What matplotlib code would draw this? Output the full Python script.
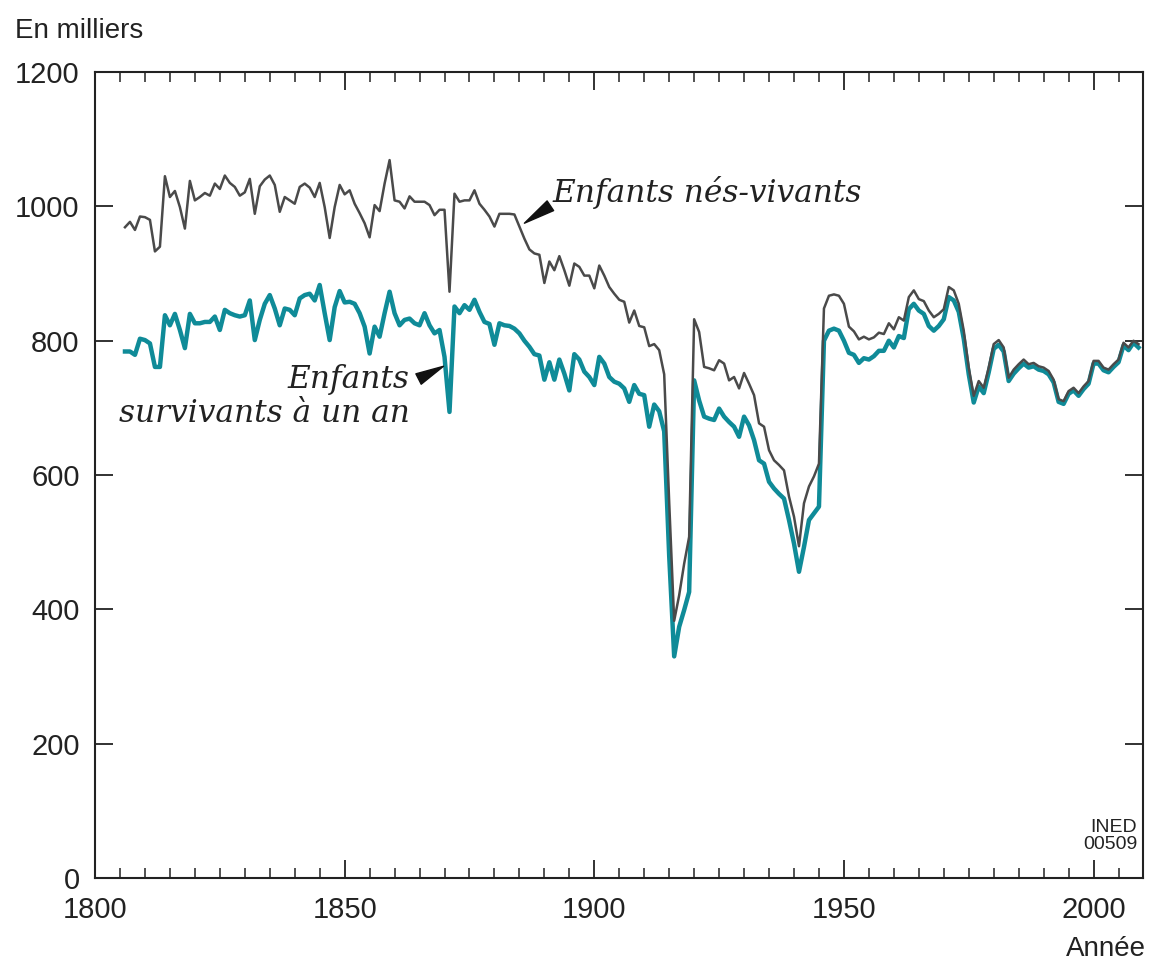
import matplotlib
matplotlib.use("Agg")
import matplotlib.pyplot as plt
from matplotlib.ticker import MultipleLocator

years = list(range(1806, 2010))

births = [
    969, 977, 965, 985, 984, 980, 933, 940, 1045, 1014,            # 1806-1815
    1023, 999, 967, 1038, 1009, 1014, 1020, 1016, 1034, 1026,       # 1816-1825
    1046, 1035, 1029, 1016, 1021, 1041, 989, 1030, 1040, 1046,      # 1826-1835
    1032, 992, 1014, 1009, 1004, 1029, 1034, 1028, 1014, 1035,      # 1836-1845
    999, 953, 999, 1032, 1018, 1024, 1004, 990, 975, 954,           # 1846-1855
    1002, 993, 1034, 1069, 1009, 1007, 997, 1015, 1007, 1007,       # 1856-1865
    1007, 1002, 987, 995, 995, 873, 1019, 1007, 1009, 1009,         # 1866-1875
    1024, 1004, 995, 985, 970, 989, 989, 989, 988, 970,             # 1876-1885
    952, 936, 930, 928, 886, 918, 905, 926, 905, 882,               # 1886-1895
    915, 910, 897, 897, 878, 912, 897, 880, 870, 861,               # 1896-1905
    858, 827, 845, 822, 820, 792, 795, 786, 750, 560,               # 1906-1915
    383, 421, 468, 508, 832, 813, 761, 759, 756, 771,               # 1916-1925
    766, 741, 746, 729, 752, 736, 719, 677, 672, 637,               # 1926-1935
    622, 615, 607, 568, 538, 494, 558, 583, 598, 617,               # 1936-1945
    848, 867, 869, 867, 855, 821, 814, 802, 806, 802,               # 1946-1955
    805, 812, 810, 826, 817, 835, 830, 865, 875, 862,               # 1956-1965
    859, 845, 835, 840, 847, 880, 875, 855, 815, 760,               # 1966-1975
    718, 740, 730, 760, 795, 801, 790, 745, 757, 765,               # 1976-1985
    772, 765, 767, 762, 760, 755, 742, 713, 710, 725,               # 1986-1995
    730, 722, 732, 740, 770, 770, 760, 757, 765, 772,               # 1996-2005
    797, 790, 800, 795,                                             # 2006-2009
]

survivors = [
    784, 784, 779, 803, 801, 796, 761, 761, 838, 823,               # 1806-1815
    840, 816, 789, 840, 826, 826, 828, 828, 836, 816,               # 1816-1825
    846, 841, 838, 836, 838, 860, 801, 831, 855, 868,               # 1826-1835
    848, 823, 848, 846, 838, 863, 868, 870, 860, 883,               # 1836-1845
    841, 801, 850, 874, 857, 858, 855, 841, 821, 781,               # 1846-1855
    821, 806, 841, 873, 841, 823, 831, 833, 826, 823,               # 1856-1865
    841, 823, 811, 816, 776, 694, 851, 841, 853, 846,               # 1866-1875
    861, 843, 828, 825, 794, 826, 823, 822, 818, 811,               # 1876-1885
    800, 791, 780, 778, 742, 768, 742, 772, 751, 726,               # 1886-1895
    780, 772, 754, 746, 734, 776, 766, 746, 739, 736,               # 1896-1905
    729, 709, 734, 721, 719, 672, 705, 695, 665, 480,               # 1906-1915
    330, 374, 399, 426, 741, 711, 687, 684, 682, 699,               # 1916-1925
    687, 679, 672, 657, 687, 674, 652, 622, 617, 590,               # 1926-1935
    580, 572, 565, 533, 498, 456, 493, 533, 543, 553,               # 1936-1945
    800, 815, 818, 815, 800, 782, 779, 767, 774, 772,               # 1946-1955
    777, 785, 785, 800, 790, 807, 804, 847, 855, 845,               # 1956-1965
    840, 822, 815, 822, 832, 865, 860, 843, 803, 750,               # 1966-1975
    708, 732, 722, 753, 788, 794, 784, 740, 751, 759,               # 1976-1985
    766, 760, 762, 757, 755, 750, 738, 709, 706, 721,               # 1986-1995
    726, 718, 728, 736, 766, 766, 756, 753, 761, 768,               # 1996-2005
    793, 786, 797, 790,                                             # 2006-2009
]

x_ticks = [1800, 1850, 1900, 1950, 2000]
y_ticks = [0, 200, 400, 600, 800, 1000, 1200]

label_births = "Enfants nés-vivants"
label_surv = "Enfants\nsurvivants à un an"

TEAL = "#0f8b98"
GREY = "#4a4a4a"
INK = "#222222"
SANS = ["Liberation Sans", "DejaVu Sans"]
SERIF = ["DejaVu Serif"]

fig = plt.figure(figsize=(11.49, 9.64), dpi=100)
ax = fig.add_axes([0.0827, 0.0892, 0.9125, 0.836])

ax.plot(years, survivors, color=TEAL, lw=3.2, zorder=3)
ax.plot(years, births, color=GREY, lw=1.8, zorder=4)

ax.set_xlim(1800, 2010)
ax.set_ylim(0, 1200)
ax.set_xticks(x_ticks)
ax.set_yticks(y_ticks)
ax.xaxis.set_minor_locator(MultipleLocator(5))

for s in ax.spines.values():
    s.set_linewidth(1.5)
    s.set_color(INK)

ax.tick_params(which="both", direction="in", top=True, right=True, color=INK)
ax.tick_params(which="major", length=13, width=1.3, labelsize=21)
ax.tick_params(axis="x", which="major", pad=13)
ax.tick_params(axis="y", which="major", pad=11)
ax.tick_params(which="minor", length=7, width=1.1)
for lab in ax.get_xticklabels() + ax.get_yticklabels():
    lab.set_family(SANS)
    lab.set_color(INK)

fig.text(0.013, 0.968, "En milliers", fontsize=20, family=SANS, color=INK,
         ha="left", va="center")
fig.text(0.997, 0.016, "Année", fontsize=20, family=SANS, color=INK,
         ha="right", va="center")
ax.text(0.994, 0.031, "INED\n00509", transform=ax.transAxes, fontsize=14,
        family=SANS, color=INK, ha="right", va="bottom", linespacing=1.0,
        multialignment="right")

arrow = dict(arrowstyle="wedge,tail_width=0.42,shrink_factor=0.5",
             fc="#111111", ec="#111111", shrinkA=0, shrinkB=0, mutation_scale=20)

ax.text(1891.6, 1020, label_births, fontsize=22.5, style="italic", family=SERIF,
        color=INK, ha="left", va="center")
ax.annotate("", xy=(1886.0, 975), xytext=(1891.2, 1001), arrowprops=arrow)

ax.text(1863, 717, label_surv, fontsize=22.5, style="italic", family=SERIF,
        color=INK, ha="right", va="center", multialignment="right",
        linespacing=1.15)
ax.annotate("", xy=(1869.8, 762), xytext=(1864.8, 743), arrowprops=arrow)

fig.savefig("out.png", dpi=100)
